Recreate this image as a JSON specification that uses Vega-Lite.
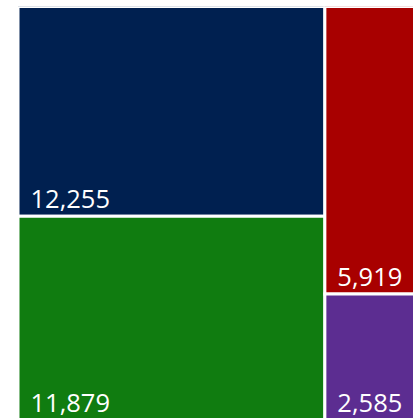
{
  "$schema": "https://vega.github.io/schema/vega-lite/v6.json",
  "width": 395,
  "height": 413,
  "autosize": "none",
  "padding": {"left": 18, "top": 6.5, "right": 0, "bottom": 0},
  "background": "white",
  "data": {"values": [
    {"category": "A", "column": 1, "order": 1, "value": 12255},
    {"category": "B", "column": 1, "order": 2, "value": 11879},
    {"category": "C", "column": 2, "order": 1, "value": 5919},
    {"category": "D", "column": 2, "order": 2, "value": 2585}
  ]},
  "transform": [
    {"stack": "value", "groupby": ["column"], "sort": [{"field": "order"}], "offset": "normalize", "as": ["y0", "y1"]},
    {"stack": "value", "groupby": [], "sort": [{"field": "column"}, {"field": "order"}], "as": ["s0", "s1"]},
    {"joinaggregate": [{"op": "min", "field": "s0", "as": "cx0"}, {"op": "max", "field": "s1", "as": "cx1"}], "groupby": ["column"]}
  ],
  "layer": [
    {
      "mark": {"type": "rect", "stroke": "white", "strokeWidth": 3, "clip": true},
      "encoding": {
        "x": {"field": "cx0", "type": "quantitative", "scale": {"domain": [0, 31065], "nice": false, "zero": false}, "axis": null},
        "x2": {"field": "cx1"},
        "y": {"field": "y0", "type": "quantitative", "scale": {"domain": [0, 1], "reverse": true, "nice": false}, "axis": null},
        "y2": {"field": "y1"},
        "color": {"field": "category", "type": "nominal", "scale": {"domain": ["A", "B", "C", "D"], "range": ["#002050", "#107c10", "#a80000", "#5c2d91"]}, "legend": null}
      }
    },
    {
      "mark": {"type": "text", "align": "left", "baseline": "alphabetic", "dx": 12.5, "dy": -8, "fontSize": 25.5, "font": "Open Sans", "color": "white"},
      "encoding": {
        "x": {"field": "cx0", "type": "quantitative"},
        "y": {"field": "y1", "type": "quantitative"},
        "text": {"field": "value", "type": "quantitative", "format": ","}
      }
    }
  ],
  "config": {"view": {"stroke": null}}
}
